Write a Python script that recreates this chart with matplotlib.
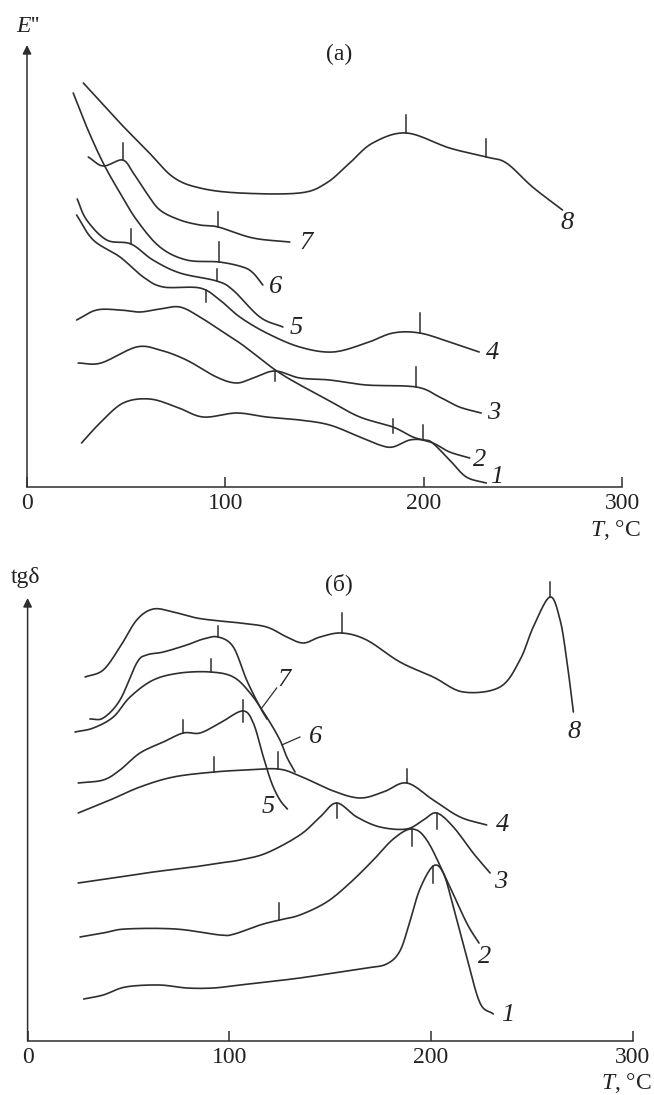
import numpy as np
import matplotlib
matplotlib.use('Agg')
import matplotlib.pyplot as plt

plt.rcParams['font.family'] = ['Liberation Serif', 'DejaVu Serif']
plt.rcParams['mathtext.fontset'] = 'custom'
plt.rcParams['mathtext.rm'] = 'Liberation Serif'
plt.rcParams['mathtext.it'] = 'Liberation Serif:italic'

INK = '#2e2e2e'

# ---------- (a) E'' : temperature (deg C) / shifted curve height ----------
a1_T = [27.5, 36.8, 48.5, 61.9, 75.4, 88.8, 105.6, 120.8, 137.5, 152.6, 167.8, 177.8, 184.4, 193, 200.5, 204.5, 213.1, 221.5, 231.6]
a1_y = [44, 64, 84, 88, 80, 70, 74, 70, 67, 62, 50, 42, 40, 47, 47, 44, 27, 10, 4]
a2_T = [25, 35.1, 46.9, 56.9, 67, 77.1, 87.2, 97.2, 107.3, 114, 129, 152.6, 167.8, 184.5, 194.6, 204.7, 213.1, 223.2]
a2_y = [167, 177, 177, 175, 178, 180, 170, 157, 144, 134, 112, 86, 70, 60, 50, 44, 35, 29]
a3_T = [25.8, 37.3, 55.2, 67, 80.4, 95.5, 105.6, 114, 125, 137.5, 152.6, 171.1, 196.3, 208, 218, 229]
a3_y = [124, 124, 140, 137, 127, 110, 104, 109, 116, 109, 107, 102, 100, 90, 80, 74]
a4_T = [25, 33.4, 46.9, 58.6, 68.7, 87.2, 97.2, 107.3, 120.8, 137.5, 154.3, 171.1, 184.5, 198, 213, 228]
a4_y = [272, 247, 230, 210, 200, 199, 187, 170, 154, 140, 135, 144, 154, 154, 145, 135]
a5_T = [25.3, 30.1, 40.2, 52.4, 63.5, 77.1, 95.6, 103.8, 117.4, 129]
a5_y = [288, 267, 247, 243, 227, 214, 206, 197, 170, 160]
a6_T = [23.3, 30.1, 38.4, 46.9, 55.3, 67, 80.5, 96.9, 108.8, 114, 118.9]
a6_y = [394, 360, 324, 294, 267, 240, 227, 225, 220, 214, 202]
a7_T = [30.9, 38.4, 48.2, 53.6, 60.3, 67, 77.1, 87.2, 96.4, 113.9, 132.5]
a7_y = [330, 321, 327, 314, 294, 277, 267, 262, 260, 249, 245]
a8_T = [28.4, 46.9, 60.3, 73.6, 87.2, 107.3, 137.5, 151, 162.7, 174.3, 191.3, 213, 231.6, 241.7, 254.9, 270]
a8_y = [404, 364, 337, 310, 299, 294, 294, 304, 324, 344, 354, 339, 330, 324, 300, 277]

# transition marks: (T, from, to) relative to curve
a_marks = [
    [(199.6, 0, 15)],
    [(184.5, -6, 8)],
    [(125, -10, 0), (196.3, 0, 20)],
    [(90.5, -12, 0), (198, 0, 20)],
    [(52.4, 0, 15), (95.6, 0, 12)],
    [(96.9, 0, 20)],
    [(48.2, 0, 17), (96.4, 0, 15)],
    [(191.3, 0, 18), (231.6, 0, 18)],
]

# ---------- (б) tg delta ----------
b1_T = [27.8, 37.5, 48.5, 65.1, 78.9, 92.1, 105.3, 118.5, 135, 151.6, 168.1, 178, 184.6, 189.6, 194.5, 201.1, 206.1, 211.1, 217.7, 224.3, 230.9]
b1_y = [42, 46, 54, 56, 53, 53, 56, 59, 63, 68, 73, 77, 90, 120, 152, 175, 168, 134, 84, 38, 27]
b2_T = [26, 37.5, 48.5, 73.4, 95.4, 102.5, 115.2, 124.8, 135, 148.3, 159.8, 171.4, 181.3, 190.4, 197.9, 207.8, 217.7, 223.8]
b2_y = [104, 108, 112, 112, 106, 107, 116, 121, 126, 139, 158, 181, 202, 212, 201, 161, 118, 98]
b3_T = [25.1, 45.8, 62.3, 82.2, 95.4, 105.3, 118.5, 135, 145, 153.2, 163.2, 174.7, 188, 196.2, 202.8, 211.1, 220.9, 229.3]
b3_y = [158, 164, 169, 174, 178, 181, 188, 206, 224, 238, 224, 214, 212, 221, 228, 214, 188, 168]
b4_T = [25.1, 40.9, 55.7, 72.3, 92.4, 108.6, 124.3, 135, 151.6, 164.8, 176.4, 188, 201.1, 214.4, 227.6]
b4_y = [228, 241, 254, 264, 269, 271, 272, 265, 250, 243, 249, 258, 241, 224, 216]
b5_T = [25.1, 37.5, 45.8, 55.7, 67.3, 77.2, 85.5, 95.4, 106.6, 111.9, 116.9, 121, 125.1, 128.8]
b5_y = [258, 261, 271, 288, 299, 308, 308, 318, 330, 318, 284, 258, 241, 232]
b6_T = [23.5, 32.6, 42.5, 50.8, 62.3, 75.6, 90.9, 102, 110.3, 118.5, 125.1, 128.5, 132.6]
b6_y = [309, 313, 324, 344, 361, 368, 369, 364, 348, 324, 301, 284, 269]
b7_T = [30.9, 37.5, 45.8, 54.1, 59, 67.3, 78.9, 87.1, 94.5, 102, 108.6, 115.2, 118.7]
b7_y = [322, 323, 341, 378, 386, 389, 396, 402, 404, 394, 361, 334, 322]
b8_T = [28.5, 37.5, 45.8, 54.1, 62.3, 72.2, 83.8, 95.4, 105.3, 118.5, 128.5, 136.7, 145, 155.7, 168.1, 184.6, 201.1, 216, 234.2, 244.1, 250.7, 259, 264, 267.3, 270.6]
b8_y = [364, 371, 394, 421, 432, 429, 423, 420, 418, 414, 404, 398, 404, 408, 401, 379, 364, 349, 354, 381, 414, 444, 421, 381, 329]

b_marks = [
    [(201.1, -17, 0)],
    [(124.8, 0, 17), (190.4, -17, 0)],
    [(153.2, -15, 0), (202.8, -16, 0)],
    [(92.4, 0, 15), (124.3, 0, 17), (188, 0, 14)],
    [(77.2, 0, 13), (106.6, -11, 11)],
    [(90.9, 0, 13)],
    [(94.5, 0, 11)],
    [(155.7, 0, 20), (259, 0, 15)],
]

curve_names = ['1', '2', '3', '4', '5', '6', '7', '8']
a_label_xy = [(237, 10), (228, 27), (235.5, 74), (234.5, 134), (135.5, 159), (125.5, 200), (140.5, 244), (272.5, 264)]
b_label_xy = [(237.8, 26), (226.4, 84), (234.7, 159), (235.5, 216), (119.5, 234), (143, 304), (127, 361), (270.8, 309)]
b_leaders = {'6': ((126, 135), (296, 304)), '7': ((116.1, 123.5), (333, 353))}


def smooth(T, y, n=14):
    # Catmull-Rom only for drawing a smooth line through the read points
    p = np.column_stack([np.asarray(T, float) * 2.0, np.asarray(y, float)])
    p = np.vstack([2 * p[0] - p[1], p, 2 * p[-1] - p[-2]])
    t = np.linspace(0, 1, n, endpoint=False)[:, None]
    out = []
    for i in range(1, len(p) - 2):
        p0, p1, p2, p3 = p[i - 1], p[i], p[i + 1], p[i + 2]
        out.append(0.5 * (2 * p1 + (-p0 + p2) * t + (2 * p0 - 5 * p1 + 4 * p2 - p3) * t ** 2
                          + (-p0 + 3 * p1 - 3 * p2 + p3) * t ** 3))
    out.append(p[-2][None, :])
    out = np.vstack(out)
    return out[:, 0] / 2.0, out[:, 1]


def setup(ax, top):
    ax.set_xlim(0, 300)
    ax.set_ylim(0, top)
    for s in ['top', 'right', 'left']:
        ax.spines[s].set_visible(False)
    ax.spines['bottom'].set_color(INK)
    ax.spines['bottom'].set_linewidth(1.1)
    ax.set_yticks([])
    ax.set_xticks([0, 100, 200, 300])
    ax.tick_params(axis='x', direction='in', length=7, width=1.1, color=INK,
                   labelsize=17, pad=4, labelcolor='#222222')
    ax.annotate('', xy=(0, 1), xytext=(0, 0), xycoords='axes fraction',
                arrowprops=dict(arrowstyle='-|>', color=INK, lw=1.1,
                                mutation_scale=13, shrinkA=0, shrinkB=0))
    ax.patch.set_alpha(0)


def draw(ax, Ts, ys, marks, labels):
    for T, y, mk, name, (lx, ly) in zip(Ts, ys, marks, curve_names, labels):
        xs, yy = smooth(T, y)
        ax.plot(xs, yy, color=INK, lw=1.2, clip_on=False, solid_capstyle='round')
        for mT, lo, hi in mk:
            my = np.interp(mT, xs, yy)
            ax.plot([mT, mT], [my + lo, my + hi], color=INK, lw=1.1, clip_on=False)
        ax.text(lx, ly, name, style='italic', fontsize=19, ha='center', va='center',
                color='#222222')


fig = plt.figure(figsize=(6.54, 10.95), dpi=100)
W, H = 654.0, 1095.0

ax1 = fig.add_axes([27 / W, (H - 487) / H, 595 / W, 442 / H])
setup(ax1, 442)
draw(ax1,
     [a1_T, a2_T, a3_T, a4_T, a5_T, a6_T, a7_T, a8_T],
     [a1_y, a2_y, a3_y, a4_y, a5_y, a6_y, a7_y, a8_y],
     a_marks, a_label_xy)

ax2 = fig.add_axes([27.6 / W, (H - 1041) / H, 605.1 / W, 443 / H])
setup(ax2, 443)
draw(ax2,
     [b1_T, b2_T, b3_T, b4_T, b5_T, b6_T, b7_T, b8_T],
     [b1_y, b2_y, b3_y, b4_y, b5_y, b6_y, b7_y, b8_y],
     b_marks, b_label_xy)
for k, (lx, ly) in b_leaders.items():
    ax2.plot(lx, ly, color=INK, lw=0.9, clip_on=False)

# titles / axis names
fig.text(28 / W, 1 - 27 / H, r"$E$''", fontsize=17, ha='center', va='center', color='#222222')
fig.text(339 / W, 1 - 54 / H, '(a)', fontsize=17, ha='center', va='center', color='#222222')
fig.text(641 / W, 1 - 530 / H, r"$T$, °C", fontsize=17, ha='right', va='center', color='#222222')

fig.text(26 / W, 1 - 578 / H, 'tgδ', fontsize=17, ha='center', va='center', color='#222222')
fig.text(339 / W, 1 - 584 / H, '(б)', fontsize=17, ha='center', va='center', color='#222222')
fig.text(652 / W, 1 - 1083 / H, r"$T$, °C", fontsize=17, ha='right', va='center', color='#222222')

fig.savefig('out.png', dpi=100, facecolor='white')
